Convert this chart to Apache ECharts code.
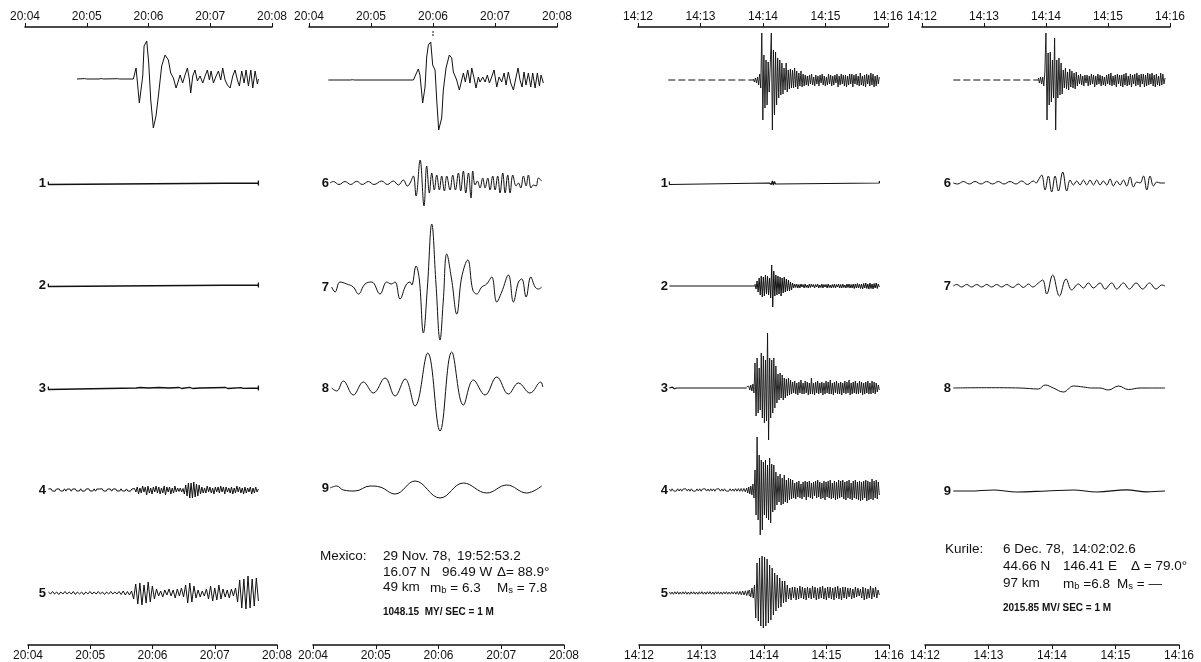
<!DOCTYPE html>
<html><head><meta charset="utf-8">
<script src="https://cdn.jsdelivr.net/npm/echarts/dist/echarts.min.js"></script>
<style>html,body{margin:0;padding:0;background:#fff}#c{width:1201px;height:662px}</style>
</head><body><div id="c"></div>
<script>
// ---------- tick labels ----------
const mexTicks = ['20:04','20:05','20:06','20:07','20:08'];
const kurTicks = ['14:12','14:13','14:14','14:15','14:16'];
const leftBandLabels = ['1','2','3','4','5'];
const rightBandLabels = ['6','7','8','9'];

// ---------- Mexico (seconds after 20:04, amplitude) ----------
const mexTopA = [[50.5,0],[58,0.4],[60,0],[72,0],[74,0.5],[76,0],[90,0.3],[92,0],[105.3,0],
[107.9,11],[111.1,-24],[114.4,3],[115.7,33],[118.3,38],[120.2,16],[122.2,-21],[124.7,-49],[127.3,-37],[129.6,-17],[132.8,13],[136.1,24],[139.3,19],[141.6,6],[144.2,1],[146.8,-9],[149.0,-2],[150.7,4],[153.2,-4],[155.5,4],[157.8,11],[159.7,0],[161.0,-14],[163.0,3],[165.2,9],[167.5,-2],[170.1,3],[172.7,-4],[175.0,3],[177.2,9],[179.2,-1],[180.8,8],[183.1,-4],[185.7,3],[187.9,8],[190.2,-1],[192.1,11],[194.4,-1],[196.7,-6],[199.3,-9],[201.9,3],[204.1,9],[206.4,-1],[208.3,-7],[210.6,8],[212.9,-4],[214.8,9],[217.1,-7],[219.4,9],[221.3,-9],[223.6,8],[225.8,-5],[226.8,0]];
const mexTopB = [[18.7,0],[40,0],[42,0.3],[44,0],[101.0,0],[102.6,2],[105.8,11],[107.4,5],[110.0,-23],[112.3,-7],[113.9,23],[115.5,35],[117.8,38],[119.7,15],[122.0,10],[123.6,-20],[125.5,-50],[128.4,-38],[130.0,-10],[132.6,12],[135.8,25],[138.1,22],[139.7,8],[142.9,0],[145.5,-10],[147.8,0],[149.4,7],[151.3,-2],[153.6,10],[155.8,-3],[157.5,12],[159.7,2],[161.6,-8],[163.9,3],[165.5,-2],[168.1,3],[170.4,-2],[172.6,5],[174.6,-3],[176.8,3],[179.1,10],[181.7,-7],[183.9,3],[186.5,-2],[188.8,7],[190.7,-5],[192.9,8],[195.2,-3],[197.8,-10],[200.4,3],[202.3,12],[204.2,0],[206.2,-7],[208.1,8],[210.0,-5],[212.3,7],[214.6,-7],[216.5,7],[218.8,-8],[221.0,7],[223.0,-6],[224.6,5],[226.8,-3]];
// flat bands, with the short end strokes drawn on the record
const mexBand1 = [[22.7,1.5],[22.7,-1.5],[22.7,0],[226.8,0],[226.8,2.5],[226.8,-2.5]];
const mexBand2 = [[22.7,1.5],[22.7,-1.5],[22.7,0],[226.8,0],[226.8,2.5],[226.8,-2.5]];
const mexBand3 = [[22.7,1.5],[22.7,-1.5],[22.7,0],[108,0],[112,0.5],[113,-0.5],[120,0],[130,0.5],[131,-0.5],[140,0],[150,0.5],[152,-0.5],[160,0.6],[163,-0.5],[170,0],[195,0.5],[197,-0.5],[210,0.4],[212,-0.4],[226.8,0],[226.8,2.5],[226.8,-2.5]];
const mexBand4Span = [22.7, 226.8];
const mexBand4 = [1,-1,1.2,-1,1,-1.2,1,-1,1.1,-1,1,-1,1.2,-1.1,1,-1,1,-1.2,1,-1,1.1,-1,1,-1,1.2,-1,1,-1.1,1,-1,1.2,-1,1,-1,1.1,-1.2,1,-1,1,-1,1.2,-1,1,-1.1,1,-1,1,-1.2,1,-1,1.1,-1,1,-1,1.2,-1,1,-1,1.1,-1,1,-1.2,1,-1,1.5,
-2,3,-4,2,-3,4,-2,3,-5,4,-3,2,-4,3,-2,4,-3,3,-4,2,-3,4,-5,3,-2,3,-4,2,-3,4,-2,
2,-1.5,2,-2,1.5,
-4,5,-6,7,-8,7,-8,8,-7,6,-6,5,-4,3,
-3,2,-3,4,-2,3,-3,2,-4,3,-2,3,-3,4,-2,3,-4,3,-2,2,-3,3,-4,2,-3,4,-2,3,-3,2,-4,3,-3,2,-2,3,-4,2,-3,3,-2,1];
const mexBand5Span = [22.7, 226.8];
const mexBand5 = [1,-1,1.5,-1,1,-1.5,1,-1,1.5,-1,1,-1,1.5,-1.5,1,-1,1,-1.5,1,-1,1.5,-1,1,-1,1.5,-1,1,-1.5,1,-1,1.5,-1,1,-1,1.5,-1.5,2,-2,1.5,-2,2,
-6,9,-11,10,-12,8,-10,11,-9,7,-6,4,
-3,2,-4,3,-2,4,-3,3,-5,4,-3,5,-4,
8,-10,10,-9,7,-5,
3,-4,2,-3,4,
-6,7,-8,5,-7,8,-6,4,
-4,3,-5,4,-3,5,
-9,13,-15,14,-16,17,-15,14,-13,15,-8];
const mexBand6 = [[20.3,0],[23.6,1.5],[29.0,-1.5],[34.9,1.5],[40.3,-1.5],[46.1,1.7],[51.6,-1.5],[57.4,1.5],[62.9,-1.5],[70.4,2],[75.8,-1.5],[81.6,2],[86.5,-2],[91.3,3],[95.2,-3],[97.8,0],[101.0,7],[103.6,-13],[107.5,23],[111.3,-23],[113.9,17],[116.5,-10],[118.8,10],[121.3,-7],[123.6,8],[126.2,-7],[128.4,7],[131.0,-8],[133.3,7],[136.5,-7],[139.1,8],[141.7,-7],[144.6,10],[146.8,-8],[149.4,12],[151.7,-10],[154.3,10],[156.8,-15],[158.5,12],[160.7,-2],[163.0,2],[165.5,-5],[168.1,5],[170.4,-5],[173.0,5],[175.2,-7],[177.8,7],[180.1,-7],[182.6,7],[184.9,-10],[187.5,10],[189.8,-10],[192.3,8],[194.6,-10],[197.2,8],[200.4,-3],[202.7,0],[204.9,-5],[207.5,7],[210.1,-3],[212.3,8],[214.9,-5],[217.2,-2],[219.8,-3],[222.0,5],[225.2,2]];
const mexBand7 = [[21.9,0],[25.2,-5],[30.0,5],[36.5,3],[42.9,0],[47.8,-7],[54.2,3],[60.7,5],[68.7,-7],[75.2,5],[79.5,3],[83.3,5],[88.1,-12],[93.9,2],[97.8,5],[99.4,2],[103.6,21],[106.8,7],[110.7,-46],[114.6,0],[118.8,63],[122.9,3],[126.8,-53],[130.0,-13],[133.3,33],[138.1,7],[143.0,-27],[147.8,10],[153.6,27],[158.5,-3],[162.3,-7],[167.2,0],[172.0,3],[176.8,10],[181.7,-15],[186.5,-5],[193.0,12],[197.8,-15],[202.7,5],[205.9,8],[210.1,-10],[214.6,10],[218.8,0],[222.0,-2],[225.2,0]];
const mexBand8 = [[21.9,0],[26.8,-3],[33.2,7],[42.9,-7],[52.6,6],[62.3,-5],[73.6,10],[83.3,-8],[93.0,9],[102.6,-18],[114.9,35],[126.8,-43],[138.1,36],[149.4,-17],[159.1,8],[170.4,-7],[181.7,11],[193.0,-6],[202.7,5],[213.9,-5],[224.3,6],[226.2,1]];
const mexBand9 = [[20.3,0],[26.8,2],[33.2,-2],[44.5,-3],[59.1,2],[68.7,1],[83.3,-6],[102.6,7],[126.8,-10],[149.4,5],[172.0,-5],[191.4,3],[210.7,-5],[225.2,2]];

// ---------- Kurile (seconds after 14:12, amplitude) ----------
const kurTopALead = [[29.1,0],[110.7,0]];
const kurTopASpan = [110.7, 231.7];
const kurTopA = [1,-2,2,-3,3,-5,6,-8,47,-40,25,-28,20,-25,18,-12,15,47,-50,30,-35,28,-25,22,-18,20,-15,17,-14,12,-10,17,-12,10,-9,11,-8,10,-8,12,-7,9,-9,7,-6,9,-7,6,-6,5,
-5,4,-6,5,-4,6,-5,3,-6,5,-4,4,-6,5,-3,6,-5,4,-6,3,-5,6,-4,5,-6,4,-5,5,-3,6,-7,4,-5,6,-4,5,-6,5,-7,4,-5,6,-4,6,-7,5,-4,6,-5,4,-6,7,-5,4,-6,5,-7,6,-4,5,-6,7,-5,6,-7,4,-6,5,-4,3];
const kurTopBLead = [[30.3,0],[112.6,0]];
const kurTopBSpan = [112.6, 235.2];
const kurTopB = [2,-3,3,-4,3,-6,8,47,-40,27,-25,28,-22,20,-18,42,-50,20,-18,22,-15,17,-14,10,-8,12,-9,8,-10,11,-7,9,-8,7,-9,8,
-6,5,-4,6,-5,4,-6,5,-3,5,-6,4,-5,6,-4,5,-7,4,-5,6,-4,5,-6,4,-5,3,-6,5,-4,6,-5,7,-6,4,-5,5,-7,6,-4,5,-6,5,-7,6,-5,7,-6,4,-5,6,-7,5,-4,6,-6,7,-5,5,-7,6,-4,6,-7,5,-6,7,-5,6,-4,7,-6,5,-7,6,-5,4,-6,7,-5,6,-4,2];
const kurBand1 = [[30.1,1.5],[30.1,-1.5],[30.1,0],[126,0],[127,1.5],[128,-1.5],[129,2],[130,-2],[131,1.5],[132,-1],[133,0],[231.7,0],[231.7,2],[231.7,-2]];
const kurBand2Lead = [[30.1,0],[112.3,0]];
const kurBand2Span = [112.3, 231.7];
const kurBand2 = [2,-3,5,-6,8,-9,10,-11,9,-10,11,-8,10,-9,8,-12,21,-21,15,-10,11,-9,10,-8,9,-10,8,-7,9,-6,7,-5,6,-5,4,-4,3,
-2,2,-1.5,2,-2,1.5,-2,2,-1,1.5,-2,2,-1.5,1,-2,2,-1.5,2,-1,1.5,-2,1.5,-1,2,-2,1,-1.5,2,-2,1.5,-1,1.5,-2,2,-1.5,1,-2,1.5,-1.5,2,-2,1.5,-1,2,-2,1.5,-2,2,-1.5,1,-2,2,-1.5,2,-2,1.5,-2,2,-2.5,2,-2,2.5,-2,2,-2.5,2,-3,2.5,-2,3,-2.5,2,-3,3,-2.5,2,-3,2.5,-2,3,-2.5,2,-1];
const kurBand3Lead = [[30.1,0],[33,0.8],[35,-0.8],[37,0],[104.3,0]];
const kurBand3Span = [104.3, 231.7];
const kurBand3 = [1,-1,2,-2,3,-3,4,-5,25,-28,30,-25,20,-22,35,-30,32,-35,28,-33,55,-52,30,-30,28,-25,30,-20,22,-15,14,-12,15,-10,13,-12,10,-10,9,-8,10,-7,8,-6,
6,-5,7,-6,5,-7,6,-5,8,-6,5,-6,7,-5,6,-7,5,-6,10,-6,5,-7,6,-5,7,-6,5,-5,6,-7,5,-6,7,-5,6,-6,8,-6,5,-7,6,-5,7,-6,5,-6,6,-7,5,-5,7,-6,6,-5,8,-7,5,-6,6,-5,7,-6,5,-6,7,-5,6,-7,5,-6,6,-5,7,-6,5,-6,7,-5,6,-6,5,-4,3,-2];
const kurBand4QuietSpan = [30.1, 104.3];
const kurBand4Quiet = [1,-1.2,1.2,-1,1,-1.2,1.2,-1,1.1,-1.2,1,-1,1.2,-1.1,1,-1.2,1.2,-1,1,-1.2,1.1,-1,1.2,-1.2,1,-1,1.2,-1.1,1,-1.2,1.2,-1,1.1,-1.2,1,-1,1.2,-1.2,1,-1.1,1.2,-1,1,-1.2,1.2,-1.1,1,-1.2,1.3,-1.2,1.4,-1.3,1.5,-1.4,1.6,-1.8,2];
const kurBand4Span = [104.3, 231.7];
const kurBand4 = [2,-3,3,-4,4,-5,6,-8,20,-25,53,-30,35,-45,30,-40,28,-25,30,-28,25,-30,32,-33,26,-22,25,-20,18,-15,14,-12,16,-15,12,-14,15,-12,10,-13,12,-10,11,-9,10,
-8,7,-9,8,-7,9,-8,6,-9,8,-7,9,-10,8,-7,9,-8,7,-9,8,-6,9,-8,10,-7,8,-9,7,-8,9,-10,8,-7,9,-8,10,-9,7,-8,9,-10,8,-9,10,-8,9,-7,10,-9,8,-10,9,-8,10,-9,7,-10,9,-8,10,-9,8,-10,9,-11,8,-10,9,-8,10,-11,9,-10,8,-9,11,-10,9,-8,10,-9,8,-5];
const kurBand5QuietSpan = [30.1, 107];
const kurBand5Quiet = [1.2,-1.2,1,-1.3,1.2,-1,1.3,-1.2,1,-1.2,1.2,-1,1.3,-1.2,1,-1.3,1.2,-1,1.2,-1.2,1,-1.3,1.2,-1,1.3,-1.2,1,-1.2,1.2,-1,1.3,-1.2,1,-1.3,1.2,-1,1.2,-1.2,1,-1.3,1.2,-1,1.3,-1.2,1,-1.2,1.2,-1,1.3,-1.2,1.4,-1.5,1.6,-1.8,2,-2,2.2,-2.5,2.5,-3];
const kurBand5Span = [107, 231.7];
const kurBand5 = [3,-4,5,-5,8,-25,30,-28,35,-33,37,-35,36,-33,34,-30,28,-27,25,-22,20,-18,18,-15,15,-14,12,-10,12,-9,8,
-6,5,-7,6,-5,6,-7,5,-6,7,-5,6,-6,5,-7,6,-5,5,-6,7,-5,6,-7,5,-6,6,-5,7,-6,5,-7,6,-5,6,-6,5,-7,6,-5,7,-6,5,-7,6,-5,6,-6,5,-4,5,-6,4,-5,6,-4,5,-3,4,-5,6,-7,5,-6,4,-5,7,-6,5,-4,6,-5,3,-2];
const kurBand6 = [[30.3,0],[34.5,-1],[40.0,1.5],[45.8,-1],[51.3,1.5],[57.1,-1],[62.6,1.5],[68.4,-1],[73.9,1.5],[79.4,-1],[85.2,1.5],[91.0,-1],[96.5,2],[102.0,-1.5],[107.8,2],[110.4,0],[112.6,3],[115.8,8],[119.1,-7],[122.3,7],[125.5,-9],[128.8,7],[132.0,-8],[136.2,11],[140.1,-8],[143.3,3],[146.5,-2],[149.7,2],[153.0,-2],[156.2,3],[159.4,-2],[162.6,3],[165.9,-2],[169.1,3],[172.3,-2],[175.5,2],[178.8,-2],[182.0,4],[185.2,-3],[188.4,2],[191.7,-2],[194.9,3],[198.1,-3],[201.4,6],[204.6,-4],[207.8,1],[211.0,0],[214.3,7],[217.5,-7],[220.7,7],[224.0,-3],[227.2,1],[230.4,0],[235.2,0]];
const kurBand7 = [[30.3,0],[33.6,1.5],[38.4,-1],[43.2,1.5],[48.1,-1],[52.9,1.5],[57.8,-1],[62.6,1.5],[67.4,-1],[72.3,1.5],[77.1,-1],[81.9,1.5],[87.8,-1.5],[93.3,2],[98.1,-1.5],[103.0,2],[107.1,-1],[112.6,3],[116.8,6],[120.7,-8],[126.5,11],[133.0,-10],[139.4,7],[144.9,-4],[151.3,2],[156.2,-2],[161.0,3],[165.9,-2],[172.3,3],[177.2,-3],[183.6,3],[188.5,-3],[194.9,3],[200.7,-3],[207.2,3],[213.6,-3],[220.1,3],[226.5,-3],[232.0,1],[235.2,0]];
const kurBand8 = [[30.3,0],[62.6,0.3],[94.9,0],[112.6,-1],[119.1,3],[127.1,0],[136.8,-4],[146.5,2],[156.2,1],[164.2,0],[172.3,0],[180.4,-2],[190.1,2],[199.7,-1.5],[211.0,0],[235.2,0]];
const kurBand9 = [[30.3,0],[46.5,0],[69.1,1],[91.6,-1],[120.7,0],[146.5,1],[169.1,-1],[198.1,1.2],[217.5,-0.8],[235.2,0]];

// ---------- helpers ----------
function sampled(span, vals) {
  const n = vals.length, dt = (span[1] - span[0]) / (n - 1);
  return vals.map((v, i) => [span[0] + i * dt, v]);
}

// ---------- layout (pixels) ----------
const panelX = [[25,272],[309,557],[638,888],[922,1170]];
const bottomX = [[28,277],[313,564],[639,889],[925,1179]];
const topAxisY = 27, bottomAxisY = 645;
const FONT = "'Liberation Sans', Arial, Helvetica, sans-serif";

const grids = [], xAxes = [], yAxes = [], series = [], graphics = [];

function addTraceGrid(panel, cy) {
  const [x0, x1] = panelX[panel];
  grids.push({left: x0, top: cy - 50, width: x1 - x0, height: 100});
  const gi = grids.length - 1;
  xAxes.push({type: 'value', gridIndex: gi, min: 0, max: 240, show: false});
  yAxes.push({type: 'value', gridIndex: gi, min: -50, max: 50, show: false});
  return gi;
}
function addTrace(gi, data, smooth, width, dashed) {
  series.push({
    type: 'line', xAxisIndex: gi, yAxisIndex: gi, data: data,
    showSymbol: false, symbol: 'none', clip: false, silent: true, smooth: smooth || false,
    lineStyle: {color: '#111', width: width || 1, type: dashed ? [7, 3] : 'solid'}
  });
}
function addAxisGrid(range, y, pos, labels) {
  grids.push({left: range[0], width: range[1] - range[0], top: pos === 'top' ? y : y - 1, height: 1});
  const gi = grids.length - 1;
  xAxes.push({
    type: 'value', gridIndex: gi, position: pos, min: 0, max: 240, interval: 60,
    axisLine: {show: true, onZero: false, lineStyle: {color: '#111', width: 1.6}},
    axisTick: {show: true, inside: false, length: 4, lineStyle: {color: '#111', width: 1}},
    axisLabel: {show: true, margin: pos === 'top' ? 4 : 5, color: '#111', fontSize: 12, fontFamily: FONT,
      showMinLabel: true, showMaxLabel: true,
      formatter: v => labels[Math.round(v / 60)]},
    splitLine: {show: false}
  });
  yAxes.push({type: 'value', gridIndex: gi, min: 0, max: 1, show: false});
}
function bandLabel(x, y, txt) {
  graphics.push({type: 'text', x: x, y: y, silent: true,
    style: {text: txt, fontSize: 13, fontWeight: 'bold', fontFamily: FONT, fill: '#111',
      align: 'right', verticalAlign: 'middle', textAlign: 'right', textVerticalAlign: 'middle'}});
}
const rich = {
  n: {fontSize: 13.5, fontFamily: FONT, fill: '#111', color: '#111', lineHeight: 16, verticalAlign: 'bottom'},
  s: {fontSize: 9.5, fontFamily: FONT, fill: '#111', color: '#111', lineHeight: 12, verticalAlign: 'bottom'}
};
function note(x, y, txt, opts) {
  const st = Object.assign({text: txt, fontSize: 13.5, fontFamily: FONT, fill: '#111',
    align: 'left', verticalAlign: 'middle', textAlign: 'left', textVerticalAlign: 'middle', rich: rich}, opts || {});
  graphics.push({type: 'text', x: x, y: y, silent: true, style: st});
}

// ---------- Panel 1: Mexico bands 1-5 ----------
const p1Rows = [79, 183, 285, 388, 490, 593];
const p1Data = [mexTopA, mexBand1, mexBand2, mexBand3, sampled(mexBand4Span, mexBand4), sampled(mexBand5Span, mexBand5)];
p1Rows.forEach((cy, i) => {
  const gi = addTraceGrid(0, cy);
  addTrace(gi, p1Data[i], false, (i >= 1 && i <= 3) ? 1.3 : 1);
  if (i > 0) bandLabel(46, cy, leftBandLabels[i - 1]);
});

// ---------- Panel 2: Mexico bands 6-9 ----------
const p2Rows = [80, 183, 287, 388, 488];
const p2Data = [mexTopB, mexBand6, mexBand7, mexBand8, mexBand9];
p2Rows.forEach((cy, i) => {
  const gi = addTraceGrid(1, cy);
  addTrace(gi, p2Data[i], i === 0 ? false : 0.4, 1);
  if (i > 0) bandLabel(329, cy, rightBandLabels[i - 1]);
});

// ---------- Panel 3: Kurile bands 1-5 ----------
const p3Rows = [80, 183, 286, 388, 490, 593];
p3Rows.forEach((cy, i) => {
  const gi = addTraceGrid(2, cy);
  if (i === 0) { addTrace(gi, kurTopALead, false, 1, true); addTrace(gi, sampled(kurTopASpan, kurTopA), false, 0.9); }
  if (i === 1) addTrace(gi, kurBand1, false, 1.2);
  if (i === 2) { addTrace(gi, kurBand2Lead, false, 1.2); addTrace(gi, sampled(kurBand2Span, kurBand2), false, 1); }
  if (i === 3) { addTrace(gi, kurBand3Lead, false, 1.2); addTrace(gi, sampled(kurBand3Span, kurBand3), false, 0.9); }
  if (i === 4) { addTrace(gi, sampled(kurBand4QuietSpan, kurBand4Quiet), false, 0.9); addTrace(gi, sampled(kurBand4Span, kurBand4), false, 0.9); }
  if (i === 5) { addTrace(gi, sampled(kurBand5QuietSpan, kurBand5Quiet), false, 0.9); addTrace(gi, sampled(kurBand5Span, kurBand5), false, 0.9); }
  if (i > 0) bandLabel(668, cy, leftBandLabels[i - 1]);
});

// ---------- Panel 4: Kurile bands 6-9 ----------
const p4Rows = [80, 183, 286, 388, 491];
p4Rows.forEach((cy, i) => {
  const gi = addTraceGrid(3, cy);
  if (i === 0) { addTrace(gi, kurTopBLead, false, 1, true); addTrace(gi, sampled(kurTopBSpan, kurTopB), false, 0.9); }
  if (i === 1) addTrace(gi, kurBand6, 0.4, 1);
  if (i === 2) addTrace(gi, kurBand7, 0.4, 1);
  if (i === 3) addTrace(gi, kurBand8, 0.4, 1);
  if (i === 4) addTrace(gi, kurBand9, 0.4, 1.2);
  if (i > 0) bandLabel(951, cy, rightBandLabels[i - 1]);
});

// ---------- time axes ----------
addAxisGrid(panelX[0], topAxisY, 'top', mexTicks);
addAxisGrid(panelX[1], topAxisY, 'top', mexTicks);
addAxisGrid(panelX[2], topAxisY, 'top', kurTicks);
addAxisGrid(panelX[3], topAxisY, 'top', kurTicks);
addAxisGrid(bottomX[0], bottomAxisY, 'bottom', mexTicks);
addAxisGrid(bottomX[1], bottomAxisY, 'bottom', mexTicks);
addAxisGrid(bottomX[2], bottomAxisY, 'bottom', kurTicks);
addAxisGrid(bottomX[3], bottomAxisY, 'bottom', kurTicks);

// small pen mark under 20:06 on the second panel's time line
graphics.push({type: 'line', silent: true, shape: {x1: 433, y1: 31, x2: 433, y2: 37},
  style: {stroke: '#111', lineWidth: 1, lineDash: [2, 1]}});

// ---------- event annotations ----------
note(320, 556, 'Mexico:');
note(383, 556, '29 Nov. 78,');
note(457, 556, '19:52:53.2');
note(383, 572, '16.07 N');
note(442, 572, '96.49 W');
note(497, 572, '\u0394= 88.9\u00b0');
note(383, 587, '49 km');
note(430, 587, '{n|m}{s|b}{n| = 6.3}');
note(497, 587, '{n|M}{s|s}{n| = 7.8}');
note(383, 612, '1048.15  MY/ SEC = 1 M', {fontSize: 10, fontWeight: 'bold'});

note(945, 549, 'Kurile:');
note(1003, 549, '6 Dec. 78,');
note(1072, 549, '14:02:02.6');
note(1003, 566, '44.66 N');
note(1063, 566, '146.41 E');
note(1131, 566, '\u0394 = 79.0\u00b0');
note(1003, 583, '97 km');
note(1063, 583, '{n|m}{s|b}{n| =6.8}');
note(1117, 583, '{n|M}{s|s}{n| = \u2014}');
note(1003, 608, '2015.85 MV/ SEC = 1 M', {fontSize: 10, fontWeight: 'bold'});

const chart = echarts.init(document.getElementById('c'), null, {renderer: 'canvas'});
chart.setOption({
  animation: false,
  backgroundColor: '#ffffff',
  grid: grids, xAxis: xAxes, yAxis: yAxes, series: series,
  graphic: {elements: graphics}
});
</script>
</body></html>
